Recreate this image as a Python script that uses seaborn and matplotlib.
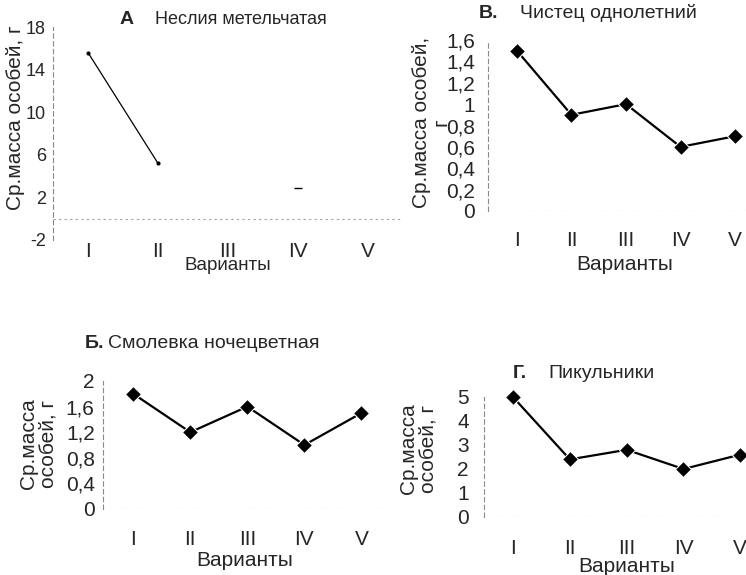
import numpy as np
import pandas as pd
import seaborn as sns
import matplotlib.pyplot as plt

# Данные
variants = ['I', 'II', 'III', 'IV', 'V']
neslia = [15.6, 5.2, np.nan, 2.9, np.nan]      # А. Неслия метельчатая
chistec = [1.5, 0.9, 1.0, 0.6, 0.7]            # В. Чистец однолетний
smolevka = [1.8, 1.2, 1.6, 1.0, 1.5]           # Б. Смолевка ночецветная
pikulniki = [5.0, 2.4, 2.8, 2.0, 2.6]          # Г. Пикульники

a_yticks = [-2, 2, 6, 10, 14, 18]
b_yticks = [0, 0.2, 0.4, 0.6, 0.8, 1.0, 1.2, 1.4, 1.6]
b_ylabels = ['0', '0,2', '0,4', '0,6', '0,8', '1', '1,2', '1,4', '1,6']
s_yticks = [0, 0.4, 0.8, 1.2, 1.6, 2.0]
s_ylabels = ['0', '0,4', '0,8', '1,2', '1,6', '2']
g_yticks = [0, 1, 2, 3, 4, 5]

sns.set_style('white')
plt.rcParams['font.family'] = ['Liberation Sans', 'DejaVu Sans']
plt.rcParams['axes.unicode_minus'] = False

W, H = 746, 575
fig = plt.figure(figsize=(W / 100, H / 100), dpi=100)


def add_ax(left, top, right, bottom):
    return fig.add_axes([left / W, 1 - bottom / H, (right - left) / W, (bottom - top) / H])


def ftext(x, y, s, **kw):
    fig.text(x / W, 1 - y / H, s, **kw)


def style_ax(ax, xpad, ypad, xsize, ysize):
    sns.despine(ax=ax, bottom=True)
    ax.spines['left'].set_linestyle((0, (4, 3)))
    ax.spines['left'].set_color('#8a8a8a')
    ax.spines['left'].set_linewidth(0.8)
    ax.axhline(0, color='#a0a0a0', lw=0.8, ls=(0, (2, 3)), zorder=0)
    ax.set_xticks(range(len(variants)), variants)
    ax.tick_params(axis='x', length=0, pad=xpad, labelsize=xsize)
    ax.tick_params(axis='y', length=3, width=0.6, color='#8a8a8a', pad=ypad, labelsize=ysize)
    ax.set_xlabel('')
    ax.set_ylabel('')


pos = list(range(len(variants)))

# А. Неслия метельчатая
ax = add_ax(53, 27, 403, 240)
sns.lineplot(x=pos[:2], y=neslia[:2], ax=ax, color='black', lw=0.9,
             marker='o', markersize=3, markeredgewidth=0, clip_on=False)
sns.scatterplot(x=[pos[3]], y=[neslia[3]], ax=ax, color='black', marker='_', s=30, linewidth=1)
ax.set_xlim(-0.5, 4.5)
ax.set_ylim(-2, 18)
ax.set_yticks(a_yticks)
style_ax(ax, 1.5, 2, 15, 13)
ftext(127, 20, 'А', fontsize=14, fontweight='bold', ha='center', va='center')
ftext(155, 20, 'Неслия метельчатая', fontsize=13, ha='left', va='center')
ftext(16, 118, 'Ср.масса особей, г', fontsize=15, rotation=90, ha='center', va='center')
ftext(228, 265, 'Варианты', fontsize=13.5, ha='center', va='center')

# В. Чистец однолетний
ax = add_ax(488, 40, 746, 211)
sns.lineplot(x=pos, y=chistec, ax=ax, color='black', lw=1.6,
             marker='D', markersize=8, clip_on=False)
ax.set_xlim(-0.53, 4.2)
ax.set_ylim(0, 1.6)
ax.set_yticks(b_yticks, b_ylabels)
style_ax(ax, 14.5, 6.5, 15, 15)
ftext(488, 13, 'В.', fontsize=14, fontweight='bold', ha='center', va='center')
ftext(520, 13, 'Чистец однолетний', fontsize=14, ha='left', va='center')
ftext(431, 122, 'Ср.масса особей,\nг', fontsize=15, rotation=90, ha='center', va='center',
      multialignment='center', linespacing=1.0)
ftext(625, 265, 'Варианты', fontsize=15, ha='center', va='center')

# Б. Смолевка ночецветная
ax = add_ax(103, 381, 390, 509)
sns.lineplot(x=pos, y=smolevka, ax=ax, color='black', lw=1.6,
             marker='D', markersize=8, clip_on=False)
ax.set_xlim(-0.53, 4.5)
ax.set_ylim(0, 2)
ax.set_yticks(s_yticks, s_ylabels)
style_ax(ax, 15, 3, 15, 15)
ftext(85, 343, 'Б.', fontsize=14, fontweight='bold', ha='left', va='center')
ftext(108, 343, 'Смолевка ночецветная', fontsize=14, ha='left', va='center')
ftext(38, 444, 'Ср.масса\nособей, г', fontsize=15, rotation=90, ha='center', va='center',
      multialignment='center', linespacing=1.0)
ftext(245, 561, 'Варианты', fontsize=15, ha='center', va='center')

# Г. Пикульники
ax = add_ax(484, 397, 746, 517)
sns.lineplot(x=pos, y=pikulniki, ax=ax, color='black', lw=1.6,
             marker='D', markersize=8, clip_on=False)
ax.set_xlim(-0.51, 4.1)
ax.set_ylim(0, 5)
ax.set_yticks(g_yticks)
style_ax(ax, 16, 8, 15, 15)
ftext(520, 373, 'Г.', fontsize=14, fontweight='bold', ha='center', va='center')
ftext(548, 373, 'Пикульники', fontsize=14, ha='left', va='center')
ftext(418, 449, 'Ср.масса\nособей, г', fontsize=15, rotation=90, ha='center', va='center',
      multialignment='center', linespacing=1.0)
ftext(627, 567, 'Варианты', fontsize=15, ha='center', va='center')

fig.savefig('out.png', dpi=100)
